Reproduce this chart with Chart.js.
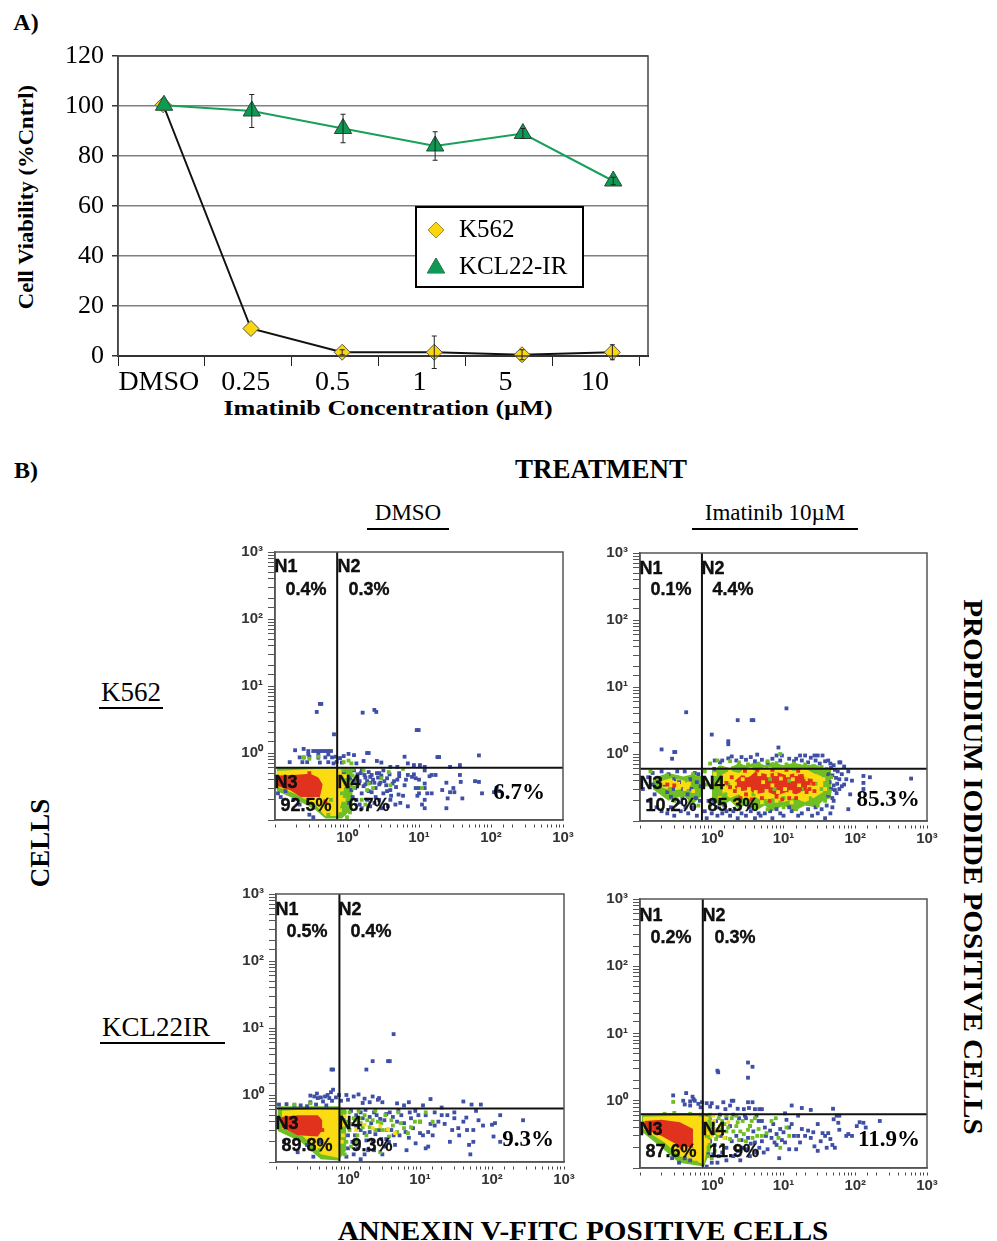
<!DOCTYPE html>
<html>
<head>
<meta charset="utf-8">
<script src="https://cdn.jsdelivr.net/npm/chart.js@4/dist/chart.umd.min.js"></script>
<style>
  body { margin: 0; background: #fff; }
  #page { position: relative; width: 997px; height: 1241px; overflow: hidden; }
  canvas { position: absolute; }
  .t { position: absolute; white-space: nowrap; color: #000; transform-origin: center; z-index: 5; }
  .serif { font-family: "Liberation Serif", serif; }
  .sans { font-family: "Liberation Sans", sans-serif; font-weight: bold; -webkit-text-stroke: 0.35px #000; color: #111; }
  .rule { position: absolute; background: #000; height: 2px; }
</style>
</head>
<body>
<div id="page">
  <canvas id="viability" width="620" height="350" style="left:50px;top:40px"></canvas>
  <canvas id="flow0" style="left:230px;top:542px"></canvas>
  <canvas id="flow1" style="left:595px;top:543px"></canvas>
  <canvas id="flow2" style="left:231px;top:884px"></canvas>
  <canvas id="flow3" style="left:595px;top:889px"></canvas>
</div>
<script>
// Panel A values
const doseLabels = ['DMSO', '0.25', '0.5', '1', '5', '10'];
const k562Pos = [0.52, 1.53, 2.58, 3.64, 4.65, 5.69];
const kclPos = [0.53, 1.54, 2.59, 3.65, 4.66, 5.70];
const k562Viability = [100.5, 11, 1.5, 1.5, 0.5, 1.5];
const kclViability = [100.3, 98, 91, 84, 89, 70];
const k562Err = [0, 0, 1, 6.5, 2, 3];
const kclErr = [0, 6.6, 5.7, 5.7, 2, 1.5];
const viabilityTicks = [0, 20, 40, 60, 80, 100, 120];

// Panel B, K562 + DMSO, [annexin, PI]
const k562DmsoBlue = [[.42,5.4],[.44,5.4],[.38,4.1],[.66,1.9],[1.65,4],[2.4,4.4],[2.55,4.1],[9.3,2.2],[9.9,2.2],
 [.19,1.1],[.25,1.15],[.29,1.07],[.34,1.07],[.38,1.07],[.42,1.07],[.46,1.07],[.5,1.07],[.55,1.07],[.6,1.07],[.22,.86],[.25,.86],[.3,.88],[.4,.85],[.5,.86],[.62,.86],[.7,.88],[.8,.84],
 [.16,.73],[.24,.73],[.28,.73],[.42,.72],[.55,.73],[.65,.7],[.72,.74],[.85,.72],[.29,.96],[.4,.97],[.55,.95],[.9,.9],[1.05,.97],[1.25,.93],[1.9,1],[2,1],[1.7,.76],[1.35,.7],[2.6,.76],[3,.72],[6.3,.88],[7,.7],[8.5,.66],[10.3,.66],[18,.87],[19,.87],[37,.66],[68,.92],[27,.62],[12,.62],[5,.62],[4,.62],
 [110,.26],[120,.3],[130,.27],[75,.25],[68,.37],[60,.38],[38,.37],[37,.47],[40,.21],[30,.3],[31,.26],[27,.26],[24,.36],[24,.15],[25,.21],[21,.28],[15,.25],[13,.25],[12,.35],[12,.15],[11,.17],[12,.2],[12,.3],[14,.45],[15,.47],[17,.47],[12,.55],[10,.3],[9.5,.23],[10,.25],[9,.3],[8.5,.48],[9,.42],[10,.4],[8,.44],[7,.47],[7,.16],[6,.23],[5.3,.5],[5.3,.45],[5.5,.18],[5.2,.24],[4.8,.31],[4.5,.38],[4.3,.35],[4,.28],[4,.2],[3.7,.16],[3.6,.42],[3.2,.25],[3.2,.55],[2.9,.36],[2.8,.5],[2.7,.43],[2.5,.3],[2.5,.22],[2.4,.18],[2.2,.47],[2.1,.36],[2,.52],[2,.27],[1.9,.2],[1.8,.43],[1.7,.32],[1.6,.55],[1.6,.25],[1.5,.38],[1.5,.17],[1.4,.48],[1.3,.3],[1.25,.55],[1.2,.22],[1.1,.42],[1.05,.18],[1,.35],[.9,.52],[2.3,.4],[2.8,.34],[3.5,.33],[4.1,.23],[1.8,.34],[2.2,.26],[.11,.25],[.12,.22],[.14,.27],[.18,.2],[.22,.17],[.3,.12],[.34,.11],
 [1.4,.42],[1.55,.5],[1.75,.47],[1.9,.38],[2.1,.44],[2.4,.36],[2.6,.5],[3,.46],[3.3,.38],[3.9,.48],[1.35,.2],[1.6,.15],[2.1,.16],[2.8,.2],[3,.15],[3.6,.27],[1.25,.38],[1.15,.28],[4.7,.17],[5,.4],[6.3,.33],[6.6,.4]];
const k562DmsoGreen = [[.9,.55],[1.1,.5],[1.2,.57],[1,.27],[.95,.18],[1.1,.13],[1,.11],[.85,.25],[1.25,.3],[1.6,.2],[1.8,.17],[1.7,.55],[2,.35],[2.3,.3],[3,.42],[4,.33],[6,.58],[3.8,.52],[11,.3],[.25,.85],[.4,.88],[.3,.82],[1.05,.77],[1.15,.7],[.9,.73],[.85,.42],[.6,.2],[.55,.12],[1.4,.33],[1.2,.46],[1.9,.28]];
const k562DmsoYellow = [[.8,.4],[.85,.3],[.9,.2],[.95,.45],[.8,.14],[.95,.33],[1.05,.35]];
const k562DmsoRed = [[.5,.19],[.3,.5]];
const k562DmsoBands = [
 {top:[[.105,.6],[.73,.6],[1.2,.6]], bottom:[[.105,.27],[.2,.2],[.37,.14],[.5,.105],[.85,.105],[1.2,.15]], tone:'green'},
 {top:[[.105,.54],[.3,.57],[.72,.59],[.9,.55]], bottom:[[.105,.32],[.2,.24],[.36,.17],[.5,.115],[.75,.115],[.9,.25]], tone:'yellow'},
 {top:[[.11,.46],[.18,.47],[.31,.49],[.4,.43],[.46,.34]], bottom:[[.11,.32],[.16,.28],[.23,.22],[.42,.22],[.46,.34]], tone:'red'}];

// K562 + imatinib 10 uM
const k562ImaBlue = [[.44,4.2],[1,1.95],[1.7,1.55],[1.7,1.4],[2.3,3.2],[3.6,3.2],[3.8,3.2],[11,4.8],[8.5,1.25],[.2,1.17],[.3,1.07],[.31,1.07],[.28,.85],[130,.47],[130,.37],[160,.45],[130,.3],[600,.43],[90,.4],[85,.25],[80,.15],[75,.42],[70,.35],[60,.3],[55,.26],[50,.2],[48,.16],[45,.13],[65,.5],[80,.55],[60,.75],[62,.75],[42,.8],[35,.95],[30,.95],[27,.95],[20,.95],[17,.95],[24,.88],[15,.85],[9.5,.95],[8,.95],[4.3,.98],[3.5,.9],[2.6,.9],[1.9,.92],[1.7,.86],[1.1,.8],[1.3,.75],[3,.82],[5,.82],[7,.85],[12,.85],[18,.8],[28,.8],[38,.78],[50,.68],[70,.65],
 [.11,.3],[.13,.45],[.13,.2],[.15,.52],[.16,.25],[.17,.16],[.2,.55],[.2,.14],[.22,.35],[.24,.13],[.25,.5],[.27,.16],[.27,.23],[.3,.12],[.3,.42],[.33,.55],[.35,.19],[.37,.14],[.4,.3],[.42,.55],[.43,.16],[.47,.13],[.5,.42],[.55,.16],[.6,.22],[.62,.12],[.65,.5],[.7,.33],[.8,.14],[.85,.11],[.9,.2],[1,.13],[1.2,.12],[1.4,.13],[1.5,.17],[1.8,.12],[2.3,.11],[2.6,.13],[3,.12],[3.5,.14],[4,.11],[4.8,.12],[5.5,.13],[7,.11],[8,.15],[10,.12],[13,.14],[18,.13],[25,.12],[30,.13],[38,.11],
 [46,.62],[52,.58],[57,.55],[42,.5],[48,.48],[54,.44],[60,.42],[44,.38],[50,.34],[56,.36],[65,.33],[46,.3],[52,.29],[42,.24],[48,.22],[40,.17],[34,.15],[28,.16],[22,.15],[16,.12],[12,.16],[9,.13],[6.5,.14],[4.5,.13],[3.3,.16],[2,.14],[1.6,.14],[1.2,.16],[1.05,.2],[1,.33],[1.08,.6],[1.4,.8],[2.2,.8],[4,.78],[6,.74],[9,.8],[14,.78],[22,.75],[32,.72],[45,.72],[.15,.35],[.19,.42],[.24,.27],[.29,.3],[.35,.38],[.39,.22],[.46,.25],[.52,.3],[.58,.52],[.62,.38],[.68,.2]];
const k562ImaGreen = [[.14,.55],[.18,.4],[.2,.28],[.24,.48],[.26,.3],[.3,.2],[.33,.45],[.38,.24],[.45,.4],[.5,.2],[.55,.5],[.6,.33],[.65,.17],[.68,.44],[.8,.55],[.85,.35],[.95,.72],[1.2,.8],[1.3,.62],[1.8,.78],[2.4,.75],[3.2,.7],[4.5,.72],[6,.78],[8,.73],[9,1],[11,.7],[14,.72],[20,.7],[26,.66],[34,.64],[40,.6],[46,.45],[42,.26],[38,.2],[30,.17],[22,.18],[15,.15],[10,.16],[6,.15],[4,.16],[2.5,.17],[1.5,.19],[1.1,.25],[1.05,.45],[.95,.17],
 [1.2,.5],[1.25,.28],[1.35,.42],[1.45,.55],[1.55,.25],[1.7,.35],[2,.62],[2.3,.22],[2.8,.64],[3,.21],[3.8,.25],[4.4,.6],[5.5,.2],[6.5,.42],[7.5,.3],[9,.62],[10,.22],[12,.4],[14,.6],[16,.2],[18,.3],[21,.62],[24,.22],[28,.36],[30,.55],[34,.3],[36,.48],[41,.38],[44,.28],[38,.55]];
const k562ImaYellow = [[.22,.37],[.28,.38],[.34,.36],[.42,.3],[.48,.36],[.55,.28],[1.1,.5],[1.2,.35],[1.3,.22],[1.5,.45],[1.6,.3],[1.8,.58],[2.2,.2],[2.8,.56],[3.5,.6],[5,.19],[6.5,.6],[8,.2],[10,.55],[13,.19],[17,.22],[21,.55],[26,.24],[28,.47],[32,.35],[36,.42],[38,.3],
 [2.4,.3],[2.7,.42],[3.1,.48],[3.3,.3],[4.1,.27],[4.6,.5],[5.2,.38],[5.8,.28],[6.2,.48],[7,.34],[7.8,.5],[8.4,.27],[9.2,.43],[10.5,.3],[11.5,.48],[12.5,.27],[13.5,.42],[15,.5],[16.5,.34],[18.5,.26],[20.5,.42],[22.5,.32],[25,.44],[1.9,.42],[2.1,.36]];
const k562ImaRed = [[.24,.35],[.3,.34],[1.6,.37],[1.9,.45],[2.1,.28],[18,.47],[20,.34],[24,.4],[21,.27],[3,.25],[5,.22],[8,.23],[12,.22],[1.8,.32],[2.5,.22],[3.6,.21],[6.4,.2],[9.6,.21],[15,.22],[17,.3],[19,.4],[23,.3],[26,.36],[27,.28],[2.9,.56],[4.3,.57],[7,.58],[11,.58],[16,.56]];
const k562ImaBands = [
 {top:[[1,.55],[1.3,.68],[1.8,.62],[2.4,.74],[3,.66],[4,.76],[5.5,.68],[7,.76],[10,.68],[14,.74],[20,.68],[28,.7],[36,.6],[46,.58]], bottom:[[1,.22],[1.3,.16],[1.8,.2],[2.4,.15],[3,.18],[4,.14],[5.5,.17],[7,.14],[10,.17],[14,.14],[20,.17],[28,.16],[36,.2],[46,.22]], tone:'green'},
 {top:[[1.4,.5],[1.8,.56],[2.4,.52],[3,.62],[4,.56],[5.5,.64],[7,.56],[10,.62],[14,.56],[20,.6],[28,.5],[36,.46]], bottom:[[1.4,.26],[1.8,.22],[2.4,.25],[3,.2],[4,.23],[5.5,.19],[7,.22],[10,.19],[14,.22],[20,.19],[28,.23],[36,.27]], tone:'yellow'},
 {top:[[2.1,.4],[2.6,.48],[3.4,.46],[4,.54],[6,.5],[8,.54],[11,.48],[15,.52],[19,.46],[24,.42]], bottom:[[2.1,.31],[2.6,.28],[3.4,.29],[4,.25],[6,.27],[8,.24],[11,.27],[15,.25],[19,.28],[24,.3]], tone:'red'},
 {top:[[.15,.44],[.25,.52],[.4,.46],[.55,.5],[.73,.44]], bottom:[[.15,.3],[.25,.2],[.4,.24],[.55,.18],[.73,.24]], tone:'green'},
 {top:[[.2,.4],[.28,.44],[.38,.41],[.5,.38]], bottom:[[.2,.32],[.28,.28],[.38,.3],[.5,.3]], tone:'yellow'}];

// KCL22IR + DMSO
const kclDmsoBlue = [[4.3,8.1],[2.2,3.2],[3.6,3.2],[3.8,3.2],[1.8,2.4],[.59,2.4],[.62,2.4],[.62,1.2],[.58,1.1],[.52,1],[.37,1.05],[.3,.98],[.34,.95],[.38,.9],[.42,.92],[.48,.95],[.55,.9],[.68,.92],[.75,1],[.95,1],[1.2,.95],[1.4,1.02],[2.2,.95],[2.7,.9],[2.6,.85],[1.7,.88],[1,.85],[.8,.82],[.6,.82],[.45,.8],[.3,.78],[1.6,.76],[2,.78],[3,.78],[4.8,.75],[7,.78],[14,.87],[40,.8],[52,.72],[70,.72],[6,.7],[11,.7],[20,.65],[.11,.72],[.14,.73],[.18,.7],[.22,.7],[.27,.68],[.36,.72],[.5,.7],
 [270,.42],[130,.5],[110,.38],[100,.36],[105,.24],[130,.2],[75,.35],[65,.42],[60,.58],[55,.3],[55,.2],[50,.13],[48,.18],[45,.3],[40,.4],[35,.25],[34,.32],[30,.45],[28,.3],[26,.2],[22,.37],[20,.5],[18,.4],[16,.55],[15,.25],[14,.37],[13,.17],[12,.16],[11,.25],[10,.4],[10,.27],[9.5,.5],[8.7,.19],[8,.32],[7.5,.45],[7,.23],[6.5,.15],[6,.38],[5.5,.5],[5.2,.25],[4.8,.4],[4.5,.18],[4,.3],[3.8,.55],[3.4,.22],[3.2,.42],[3,.13],[2.7,.3],[2.5,.5],[2.2,.2],[2.1,.38],[1.9,.15],[1.7,.27],[1.6,.45],[1.5,.11],[1.4,.2],[1.3,.35],[1.2,.13],[1.1,.58],[1,.25],[.95,.12],[.85,.45],[.13,.2],[.2,.14],[.27,.18],[.33,.12],[.4,.2],
 [1.3,.5],[1.5,.55],[1.75,.6],[2,.47],[2.3,.55],[2.8,.44],[3.4,.52],[4.2,.47],[5,.58],[1.5,.3],[1.8,.21],[2,.28],[2.4,.26],[2.9,.22],[3.2,.17],[3.7,.2],[4.3,.25],[1.25,.25],[1.15,.2],[1,.16],[1.35,.16],[1.7,.13],[2.3,.15],[6.3,.28],[7.2,.55],[8.6,.58],[12,.5],[13,.28],[16,.35],[24,.5],[30,.55],[44,.46]];
const kclDmsoGreen = [[1.05,.55],[1.2,.45],[1.4,.58],[1.5,.38],[1.7,.5],[1.8,.25],[2,.33],[2.4,.58],[2.6,.4],[3,.3],[3.3,.5],[3.7,.24],[4.2,.35],[4.8,.28],[5,.55],[6,.32],[6.8,.27],[7.5,.33],[8.5,.4],[10,.4],[12,.55],[15,.4],[.85,.3],[.95,.2],[1.1,.17],[.9,.55],[2.8,.14],[.3,.75],[.18,.72],[.4,.15],
 [.95,.4],[1.05,.3],[1.15,.37],[1.25,.42],[1.35,.25],[1.45,.45],[1.6,.33],[1.85,.42],[2.2,.42],[2.4,.3],[2.9,.38],[3.4,.3],[4,.42],[5.4,.38],[.82,.15],[.9,.13],[1.3,.2]];
const kclDmsoYellow = [[.8,.4],[.85,.25],[1,.36],[1.3,.3],[1.7,.36],[2.2,.32],[2.8,.34],[3.6,.31],[4.5,.27],[.9,.48],[.85,.36],[.82,.2]];
const kclDmsoRed = [[.44,.3]];
const kclDmsoBands = [
 {top:[[.105,.68],[.73,.68],[.95,.6]], bottom:[[.105,.29],[.22,.2],[.42,.11],[.73,.105],[.95,.15]], tone:'green'},
 {top:[[.12,.58],[.4,.62],[.75,.6]], bottom:[[.12,.32],[.24,.24],[.42,.13],[.75,.115]], tone:'yellow'},
 {top:[[.12,.47],[.2,.5],[.38,.5],[.44,.42]], bottom:[[.12,.33],[.2,.25],[.38,.24],[.44,.3]], tone:'red'}];

// KCL22IR + imatinib 10 uM
const kclImaBlue = [[3.2,3.7],[3.7,3.2],[3.2,2.2],[1.2,2.8],[1.23,2.65],[.29,1.2],[.44,1.3],[.54,1.15],[.56,1.05],[.58,1],[.5,.98],[.4,1],[.42,.88],[.5,.85],[.65,.9],[.73,.95],[.85,.92],[1,.92],[1.45,.95],[1.9,1],[2,1],[3.2,.95],[3.7,.95],[.7,.8],[.95,.82],[1.2,.8],[1.55,.75],[1.8,.85],[2.3,.76],[2.8,.75],[3.3,.78],[4,.75],[4.6,.75],[5,.75],[13,.85],[18,.78],[24,.73],[49,.76],[10.5,.65],[16,.6],[55,.6],[60,.6],
 [220,.5],[130,.47],[115,.48],[140,.4],[105,.42],[90,.3],[80,.32],[75,.3],[60,.37],[58,.47],[50,.53],[48,.22],[52,.2],[45,.27],[40,.2],[38,.3],[33,.25],[30,.18],[30,.45],[27,.21],[24,.28],[22,.36],[18,.38],[16,.3],[15,.19],[13,.45],[12,.19],[11,.52],[10,.34],[9.5,.26],[8.7,.14],[8,.22],[8,.32],[7.2,.45],[6.8,.28],[6,.19],[5.5,.4],[5,.25],[4.5,.5],[4.2,.17],[3.8,.35],[3.4,.15],[3.2,.28],[3,.55],[2.7,.2],[2.5,.13],[2.2,.3],[2,.15],[1.8,.42],[1.6,.13],[1.4,.17],[1.2,.12],[1.1,.22],[1,.12],[.9,.16],[.85,.105],[.5,.13],[.42,.14],[.35,.12],[.28,.14],
 [1.3,.62],[1.6,.55],[2,.62],[2.4,.55],[2.9,.6],[3.4,.42],[4.2,.6],[5,.5],[5.7,.3],[6.5,.36],[7.5,.24],[9,.38],[10.5,.24],[12,.4],[14,.3],[17,.24],[20,.3],[26,.34],[35,.33],[42,.33],[1.35,.3],[1.6,.2],[1.9,.25],[2.3,.18],[2.6,.26],[3,.19],[3.5,.23],[4,.24],[4.6,.2],[5.3,.17],[.95,.25],[1.05,.16],[1.25,.15],[1.15,.5],[.87,.6]];
const kclImaGreen = [[.29,.96],[.95,.55],[1.05,.45],[1.2,.3],[1.25,.55],[1.4,.22],[1.5,.45],[1.6,.35],[1.8,.27],[1.9,.55],[2.1,.2],[2.2,.42],[2.5,.35],[2.7,.5],[3,.25],[3.4,.42],[3.7,.28],[4,.55],[4.5,.38],[5,.3],[5.8,.33],[6.8,.5],[7.8,.55],[8.5,.28],[11,.4],[12,.3],[9,.2],[.85,.3],[.9,.2],[1,.14],[.7,.62],[.5,.64],[.3,.66],[.22,.64],[.6,.12],
 [1,.38],[1.1,.33],[1.15,.27],[1.3,.38],[1.4,.5],[1.55,.28],[1.7,.4],[2,.35],[2.3,.48],[2.4,.26],[2.8,.32],[3.2,.37],[3.6,.5],[4.3,.3],[.88,.15],[1.1,.18],[.95,.62],[1.6,.6],[2.2,.6]];
const kclImaYellow = [[.85,.44],[.95,.35],[1.05,.6],[1.15,.38],[1.3,.42],[1.5,.28],[1.7,.48],[.9,.25],[.85,.55],[.88,.33],[1,.3],[1.08,.5],[1.25,.33]];
const kclImaRed = [[.38,.2]];
const kclImaBands = [
 {top:[[.105,.64],[.5,.66],[.78,.66],[1,.56]], bottom:[[.105,.35],[.2,.2],[.35,.12],[.78,.105],[1,.2]], tone:'green'},
 {top:[[.11,.58],[.4,.6],[.78,.6],[.88,.5]], bottom:[[.11,.38],[.22,.24],[.36,.15],[.78,.115],[.88,.22]], tone:'yellow'},
 {top:[[.115,.5],[.2,.52],[.36,.48],[.55,.38]], bottom:[[.115,.38],[.2,.3],[.36,.21],[.55,.2]], tone:'red'}];

const superscripts = ['⁰', '¹', '²', '³'];
const flowPanels = [
  {w: 288, h: 268, gateX: .73, gateY: .6, bands: k562DmsoBands, blue: k562DmsoBlue, green: k562DmsoGreen, yellow: k562DmsoYellow, red: k562DmsoRed},
  {w: 287, h: 268, gateX: .73, gateY: .6, bands: k562ImaBands, blue: k562ImaBlue, green: k562ImaGreen, yellow: k562ImaYellow, red: k562ImaRed},
  {w: 288, h: 268, gateX: .76, gateY: .63, bands: kclDmsoBands, blue: kclDmsoBlue, green: kclDmsoGreen, yellow: kclDmsoYellow, red: kclDmsoRed},
  {w: 287, h: 269, gateX: .75, gateY: .63, bands: kclImaBands, blue: kclImaBlue, green: kclImaGreen, yellow: kclImaYellow, red: kclImaRed},
];
const tones = {blue: '#3f4fa6', green: '#6fbf24', yellow: '#fbdc12', red: '#e0321c'};

const page = document.getElementById('page');
function label(text, x, y, font, cls, extra) {
  const d = document.createElement('div');
  d.className = 't ' + cls;
  d.textContent = text;
  d.style.left = x + 'px';
  d.style.top = y + 'px';
  d.style.font = font;
  d.style.transform = 'translate(-50%,-50%) ' + (extra || '');
  page.appendChild(d);
}
function rule(x1, x2, y) {
  const d = document.createElement('div');
  d.className = 'rule';
  d.style.left = x1 + 'px';
  d.style.width = (x2 - x1) + 'px';
  d.style.top = y + 'px';
  page.appendChild(d);
}
const serifBold = 'bold 27px "Liberation Serif"';
const serifPlain = '27px "Liberation Serif"';
label('A)', 26, 22, 'bold 24px "Liberation Serif"', 'serif');
label('B)', 26, 470, 'bold 24px "Liberation Serif"', 'serif');
label('Cell Viability (%Cntrl)', 26, 197, 'bold 21px "Liberation Serif"', 'serif', 'rotate(-90deg) scaleX(1.08)');
label('Imatinib Concentration (µM)', 388, 408, 'bold 22px "Liberation Serif"', 'serif', 'scaleX(1.19)');
label('TREATMENT', 601, 469, serifBold, 'serif');
label('DMSO', 408, 513, '23px "Liberation Serif"', 'serif');
label('Imatinib 10µM', 775, 513, '23px "Liberation Serif"', 'serif');
rule(367, 449, 528); rule(692, 858, 528);
label('K562', 131, 692, serifPlain, 'serif');
rule(99, 163, 707);
label('KCL22IR', 156, 1027, serifPlain, 'serif');
rule(100, 225, 1042);
label('CELLS', 40, 843, serifBold, 'serif', 'rotate(-90deg)');
label('PROPIDIUM IODIDE POSITIVE CELLS', 972, 867, serifBold, 'serif', 'rotate(90deg) scaleX(1.08)');
label('ANNEXIN V-FITC POSITIVE CELLS', 583, 1231, serifBold, 'serif', 'scaleX(1.08)');

const gateFont = 'bold 18px "Liberation Sans"';
const pctFont = 'bold 18px "Liberation Sans"';
const bigFont = 'bold 23px "Liberation Serif"';
[
  [286,566,349,566,306,589,369,589,286,782,349,782,306,805,369,805,519,792,'0.4%','0.3%','92.5%','6.7%','6.7%'],
  [651,568,713,568,671,589,733,589,651,783,713,783,671,805,733,805,888,799,'0.1%','4.4%','10.2%','85.3%','85.3%'],
  [287,909,350,909,307,931,371,931,287,1123,350,1123,307,1145,372,1145,528,1139,'0.5%','0.4%','89.8%','9.3%','9.3%'],
  [651,915,714,915,671,937,735,937,651,1129,714,1129,671,1151,734,1151,889,1139,'0.2%','0.3%','87.6%','11.9%','11.9%'],
].forEach(r => {
  label('N1', r[0], r[1], gateFont, 'sans');
  label('N2', r[2], r[3], gateFont, 'sans');
  label(r[18], r[4], r[5], pctFont, 'sans');
  label(r[19], r[6], r[7], pctFont, 'sans');
  label('N3', r[8], r[9], gateFont, 'sans');
  label('N4', r[10], r[11], gateFont, 'sans');
  label(r[20], r[12], r[13], pctFont, 'sans');
  label(r[21], r[14], r[15], pctFont, 'sans');
  label(r[22], r[16], r[17], bigFont, 'serif');
});

const framePlugin = {
  id: 'frame',
  afterDatasetsDraw(chart, args, opts) {
    const a = chart.chartArea, c = chart.ctx;
    c.save();
    c.strokeStyle = opts.color;
    c.lineWidth = opts.width;
    c.strokeRect(a.left, a.top, a.width, a.height);
    c.restore();
  }
};
const errorBars = {
  id: 'errorBars',
  afterDatasetsDraw(chart) {
    const c = chart.ctx, {x, y} = chart.scales;
    c.save();
    c.strokeStyle = '#222';
    c.lineWidth = 1;
    [[k562Pos, k562Viability, k562Err], [kclPos, kclViability, kclErr]].forEach(([pos, val, err]) => {
      pos.forEach((p, i) => {
        if (!err[i]) return;
        const px = x.getPixelForValue(p), hi = y.getPixelForValue(val[i] + err[i]), lo = y.getPixelForValue(val[i] - err[i]);
        c.beginPath();
        c.moveTo(px, hi); c.lineTo(px, lo);
        c.moveTo(px - 2.5, hi); c.lineTo(px + 2.5, hi);
        c.moveTo(px - 2.5, lo); c.lineTo(px + 2.5, lo);
        c.stroke();
      });
    });
    c.restore();
  }
};
const legendBox = {
  id: 'legendBox',
  afterDraw(chart) {
    const c = chart.ctx, b = {left: 366, top: 167, w: 167, h: 80};
    c.save();
    c.fillStyle = '#fff';
    c.fillRect(b.left, b.top, b.w, b.h);
    c.strokeStyle = '#000';
    c.lineWidth = 2;
    c.strokeRect(b.left, b.top, b.w, b.h);
    chart.data.datasets.forEach((ds, i) => {
      const yy = b.top + 23 + i * 37;
      c.fillStyle = ds.backgroundColor;
      c.strokeStyle = '#444';
      c.lineWidth = 1;
      Chart.helpers.drawPoint(c, {pointStyle: ds.pointStyle, radius: i ? 10 : 8, borderWidth: 1}, b.left + 20, yy + (i ? 1 : 0));
      c.fill();
      c.fillStyle = '#000';
      c.font = '25px "Liberation Serif"';
      c.textBaseline = 'middle';
      c.fillText(ds.label, b.left + 43, yy);
    });
    c.restore();
  }
};

new Chart(document.getElementById('viability'), {
  type: 'scatter',
  data: {
    datasets: [
      {label: 'K562', data: k562Viability.map((v, i) => ({x: k562Pos[i], y: v})), showLine: true, clip: false, order: 2,
       borderColor: '#111', backgroundColor: '#fbd60f', borderWidth: 2, pointStyle: 'rectRot', pointRadius: 8, pointBorderColor: '#555', pointBorderWidth: 1},
      {label: 'KCL22-IR', data: kclViability.map((v, i) => ({x: kclPos[i], y: v})), showLine: true, clip: false, order: 1,
       borderColor: '#16a05a', backgroundColor: '#0c9a55', borderWidth: 2, pointStyle: 'triangle', pointRadius: 10, pointBorderColor: '#2b4a35', pointBorderWidth: 1},
    ]
  },
  options: {
    responsive: false,
    animation: false,
    layout: {padding: {top: 16, right: 22}},
    plugins: {legend: {display: false}, tooltip: {enabled: false}, frame: {color: '#444', width: 1.5}},
    scales: {
      x: {
        type: 'linear', min: 0, max: 6.1,
        afterBuildTicks(s) { s.ticks = [0,.47,1,1.47,2,2.47,3,3.47,4,4.46,5,5.49,6].map(v => ({value: v})); },
        afterFit(s) { s.height = 34; s.paddingLeft = 0; s.paddingRight = 0; },
        border: {color: '#000', width: 2},
        grid: {drawOnChartArea: false, tickLength: 10, tickWidth: 1, tickColor: c => Number.isInteger(c.tick.value) ? '#222' : 'rgba(0,0,0,0)'},
        ticks: {autoSkip: false, maxRotation: 0, minRotation: 0, padding: 0, color: '#000', font: {family: 'Liberation Serif', size: 28},
          callback: v => Number.isInteger(v) ? '' : doseLabels[Math.floor(v)]}
      },
      y: {
        min: 0, max: 120,
        afterBuildTicks(s) { s.ticks = viabilityTicks.map(v => ({value: v})); },
        afterFit(s) { s.width = 68; s.paddingTop = 0; s.paddingBottom = 0; },
        border: {color: '#444', width: 1.5},
        grid: {color: '#808080', lineWidth: 1.5, tickLength: 6, tickColor: '#333'},
        ticks: {padding: 8, color: '#000', font: {family: 'Liberation Serif', size: 26}}
      }
    }
  },
  plugins: [framePlugin, errorBars, legendBox]
});

function points(list) { return list.map(p => ({x: p[0], y: p[1]})); }
function decadeLabel(v) {
  const e = Math.log10(v);
  return Math.abs(e - Math.round(e)) < 1e-6 && e > -0.5 ? '10' + superscripts[Math.round(e)] : '';
}
function logAxis(fit, pad) {
  return {
    type: 'logarithmic', min: 0.1, max: 1000,
    afterFit: fit,
    border: {color: '#555', width: 1.5},
    ticks: {autoSkip: false, maxRotation: 0, minRotation: 0, padding: pad, color: '#333', font: {family: 'Liberation Sans', size: 15, weight: 'bold'}, callback: decadeLabel},
  };
}

flowPanels.forEach((p, idx) => {
  const datasets = [];
  p.bands.forEach(b => {
    datasets.push({data: points(b.top), showLine: true, fill: '+1', backgroundColor: tones[b.tone], borderWidth: 0, pointRadius: 0});
    datasets.push({data: points(b.bottom), showLine: true, fill: false, borderWidth: 0, pointRadius: 0});
  });
  ['blue', 'green', 'yellow', 'red'].forEach(tone => {
    datasets.push({data: points(p[tone]), backgroundColor: tones[tone], borderWidth: 0, pointStyle: 'rect', pointRadius: 2.7});
  });
  datasets.push({data: points([[p.gateX, 0.1], [p.gateX, 1000]]), showLine: true, borderColor: '#111', borderWidth: 2, pointRadius: 0});
  datasets.push({data: points([[0.1, p.gateY], [1000, p.gateY]]), showLine: true, borderColor: '#111', borderWidth: 2, pointRadius: 0});
  datasets.forEach((d, i) => { d.order = -i; });

  const canvas = document.getElementById('flow' + idx);
  canvas.width = p.w + 45 + 22;
  canvas.height = p.h + 10 + 30;
  const xAxis = logAxis(s => { s.height = 30; s.paddingLeft = 0; s.paddingRight = 0; }, 1);
  xAxis.grid = {drawOnChartArea: false, tickLength: 8, tickColor: '#444', tickBorderDash: [0, 4, 3, 20]};
  const yAxis = logAxis(s => { s.width = 45; s.paddingTop = 0; s.paddingBottom = 0; }, 5);
  yAxis.grid = {drawOnChartArea: false, tickLength: 7, tickColor: '#555'};

  new Chart(canvas, {
    type: 'scatter',
    data: {datasets},
    options: {
      responsive: false,
      animation: false,
      layout: {padding: {top: 10, right: 22}},
      plugins: {legend: {display: false}, tooltip: {enabled: false}, frame: {color: '#555', width: 1.5}},
      scales: {x: xAxis, y: yAxis}
    },
    plugins: [framePlugin]
  });
});
</script>
</body>
</html>
